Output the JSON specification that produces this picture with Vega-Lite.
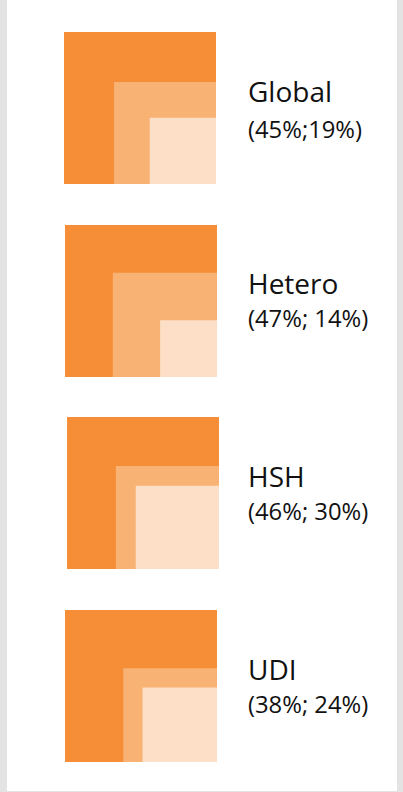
{
  "$schema": "https://vega.github.io/schema/vega-lite/v6.json",
  "background": "#e3e3e3",
  "padding": {"left": 7, "right": 6, "top": 0, "bottom": 1},
  "spacing": 0,
  "config": {"view": {"fill": "white", "stroke": null}},
  "datasets": {
    "squares": [
      {"group": "Global", "level": "total", "share": 1, "note": "(45%;19%)"},
      {"group": "Global", "level": "first", "share": 0.45, "note": "(45%;19%)"},
      {"group": "Global", "level": "second", "share": 0.19, "note": "(45%;19%)"},
      {"group": "Hetero", "level": "total", "share": 1, "note": "(47%; 14%)"},
      {"group": "Hetero", "level": "first", "share": 0.47, "note": "(47%; 14%)"},
      {"group": "Hetero", "level": "second", "share": 0.14, "note": "(47%; 14%)"},
      {"group": "HSH", "level": "total", "share": 1, "note": "(46%; 30%)"},
      {"group": "HSH", "level": "first", "share": 0.46, "note": "(46%; 30%)"},
      {"group": "HSH", "level": "second", "share": 0.30, "note": "(46%; 30%)"},
      {"group": "UDI", "level": "total", "share": 1, "note": "(38%; 24%)"},
      {"group": "UDI", "level": "first", "share": 0.38, "note": "(38%; 24%)"},
      {"group": "UDI", "level": "second", "share": 0.24, "note": "(38%; 24%)"}
    ]
  },
  "data": {"name": "squares"},
  "vconcat": [
    {
      "width": 390, "height": 198,
      "transform": [{"filter": "datum.group === 'Global'"}],
      "layer": [
        {"mark": {"type": "rect"},
         "encoding": {
           "x": {"field": "share", "type": "quantitative", "scale": {"type": "sqrt", "domain": [0, 1], "range": [209, 57], "nice": false}, "axis": null},
           "x2": {"datum": 0},
           "y": {"field": "share", "type": "quantitative", "scale": {"type": "sqrt", "domain": [0, 1], "range": [184, 32], "nice": false}, "axis": null},
           "y2": {"datum": 0},
           "color": {"field": "level", "type": "nominal", "scale": {"domain": ["total", "first", "second"], "range": ["#F68E37", "#F8B274", "#FCDFC6"]}, "legend": null}
         }},
        {"transform": [{"filter": "datum.level === 'total'"}],
         "mark": {"type": "text", "align": "left", "baseline": "alphabetic", "dx": 32, "dy": 70, "font": "Open Sans", "fontSize": 28, "color": "#111111"},
         "encoding": {"x": {"datum": 0}, "y": {"datum": 1}, "text": {"field": "group"}}},
        {"transform": [{"filter": "datum.level === 'total'"}],
         "mark": {"type": "text", "align": "left", "baseline": "alphabetic", "dx": 32, "dy": 106, "font": "Open Sans", "fontSize": 23.8, "color": "#111111"},
         "encoding": {"x": {"datum": 0}, "y": {"datum": 1}, "text": {"field": "note"}}}
      ]
    },
    {
      "width": 390, "height": 198,
      "transform": [{"filter": "datum.group === 'Hetero'"}],
      "layer": [
        {"mark": {"type": "rect"},
         "encoding": {
           "x": {"field": "share", "type": "quantitative", "scale": {"type": "sqrt", "domain": [0, 1], "range": [210, 58], "nice": false}, "axis": null},
           "x2": {"datum": 0},
           "y": {"field": "share", "type": "quantitative", "scale": {"type": "sqrt", "domain": [0, 1], "range": [179, 27], "nice": false}, "axis": null},
           "y2": {"datum": 0},
           "color": {"field": "level", "type": "nominal", "scale": {"domain": ["total", "first", "second"], "range": ["#F68E37", "#F8B274", "#FCDFC6"]}, "legend": null}
         }},
        {"transform": [{"filter": "datum.level === 'total'"}],
         "mark": {"type": "text", "align": "left", "baseline": "alphabetic", "dx": 31, "dy": 69, "font": "Open Sans", "fontSize": 28, "color": "#111111"},
         "encoding": {"x": {"datum": 0}, "y": {"datum": 1}, "text": {"field": "group"}}},
        {"transform": [{"filter": "datum.level === 'total'"}],
         "mark": {"type": "text", "align": "left", "baseline": "alphabetic", "dx": 31, "dy": 102, "font": "Open Sans", "fontSize": 23.8, "color": "#111111"},
         "encoding": {"x": {"datum": 0}, "y": {"datum": 1}, "text": {"field": "note"}}}
      ]
    },
    {
      "width": 390, "height": 198,
      "transform": [{"filter": "datum.group === 'HSH'"}],
      "layer": [
        {"mark": {"type": "rect"},
         "encoding": {
           "x": {"field": "share", "type": "quantitative", "scale": {"type": "sqrt", "domain": [0, 1], "range": [212, 60], "nice": false}, "axis": null},
           "x2": {"datum": 0},
           "y": {"field": "share", "type": "quantitative", "scale": {"type": "sqrt", "domain": [0, 1], "range": [173, 21], "nice": false}, "axis": null},
           "y2": {"datum": 0},
           "color": {"field": "level", "type": "nominal", "scale": {"domain": ["total", "first", "second"], "range": ["#F68E37", "#F8B274", "#FCDFC6"]}, "legend": null}
         }},
        {"transform": [{"filter": "datum.level === 'total'"}],
         "mark": {"type": "text", "align": "left", "baseline": "alphabetic", "dx": 29, "dy": 70, "font": "Open Sans", "fontSize": 28, "color": "#111111"},
         "encoding": {"x": {"datum": 0}, "y": {"datum": 1}, "text": {"field": "group"}}},
        {"transform": [{"filter": "datum.level === 'total'"}],
         "mark": {"type": "text", "align": "left", "baseline": "alphabetic", "dx": 29, "dy": 103, "font": "Open Sans", "fontSize": 23.8, "color": "#111111"},
         "encoding": {"x": {"datum": 0}, "y": {"datum": 1}, "text": {"field": "note"}}}
      ]
    },
    {
      "width": 390, "height": 197,
      "transform": [{"filter": "datum.group === 'UDI'"}],
      "layer": [
        {"mark": {"type": "rect"},
         "encoding": {
           "x": {"field": "share", "type": "quantitative", "scale": {"type": "sqrt", "domain": [0, 1], "range": [210, 58], "nice": false}, "axis": null},
           "x2": {"datum": 0},
           "y": {"field": "share", "type": "quantitative", "scale": {"type": "sqrt", "domain": [0, 1], "range": [168, 16], "nice": false}, "axis": null},
           "y2": {"datum": 0},
           "color": {"field": "level", "type": "nominal", "scale": {"domain": ["total", "first", "second"], "range": ["#F68E37", "#F8B274", "#FCDFC6"]}, "legend": null}
         }},
        {"transform": [{"filter": "datum.level === 'total'"}],
         "mark": {"type": "text", "align": "left", "baseline": "alphabetic", "dx": 31, "dy": 70, "font": "Open Sans", "fontSize": 28, "color": "#111111"},
         "encoding": {"x": {"datum": 0}, "y": {"datum": 1}, "text": {"field": "group"}}},
        {"transform": [{"filter": "datum.level === 'total'"}],
         "mark": {"type": "text", "align": "left", "baseline": "alphabetic", "dx": 31, "dy": 103, "font": "Open Sans", "fontSize": 23.8, "color": "#111111"},
         "encoding": {"x": {"datum": 0}, "y": {"datum": 1}, "text": {"field": "note"}}}
      ]
    }
  ]
}
